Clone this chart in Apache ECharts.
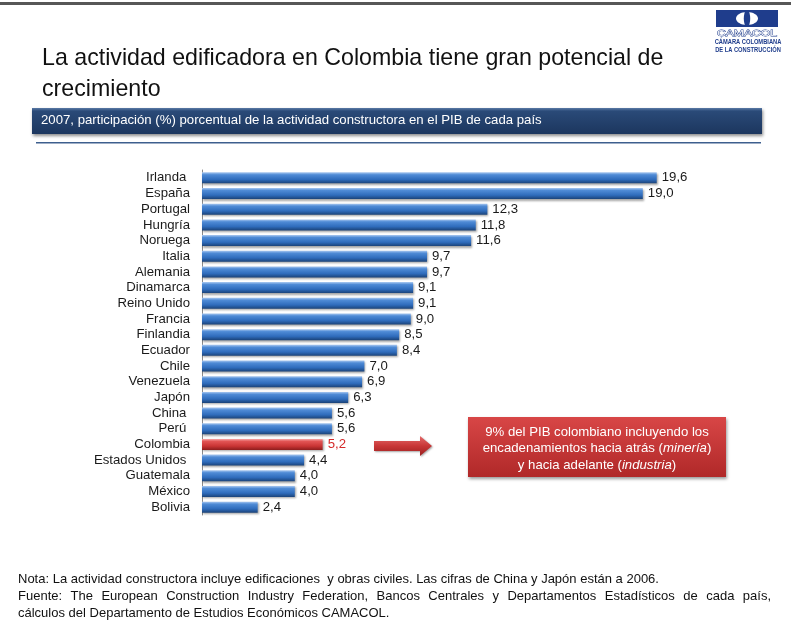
<!DOCTYPE html>
<html>
<head>
<meta charset="utf-8">
<script src="https://cdn.jsdelivr.net/npm/echarts@6/dist/echarts.min.js"></script>
<style>
  html, body { margin: 0; padding: 0; background: #ffffff; }
  #chart { width: 791px; height: 623px; }
</style>
</head>
<body>
<div id="chart"></div>
<script>
// Construction share of GDP, 2007 (%)
const countries = [
  'Irlanda ', 'España', 'Portugal', 'Hungría', 'Noruega', 'Italia', 'Alemania',
  'Dinamarca', 'Reino Unido', 'Francia', 'Finlandia', 'Ecuador', 'Chile',
  'Venezuela', 'Japón', 'China ', 'Perú ', 'Colombia', 'Estados Unidos ',
  'Guatemala', 'México', 'Bolivia'
];
const shares = [
  19.6, 19.0, 12.3, 11.8, 11.6, 9.7, 9.7,
  9.1, 9.1, 9.0, 8.5, 8.4, 7.0,
  6.9, 6.3, 5.6, 5.6, 5.2, 4.4,
  4.0, 4.0, 2.4
];
const highlight = 'Colombia';

const titleLines = [
  'La actividad edificadora en Colombia tiene gran potencial de',
  'crecimiento'
];
const subtitle = '2007, participación (%) porcentual de la actividad constructora en el PIB de cada país';
const calloutText = '9% del PIB colombiano incluyendo los\nencadenamientos hacia atrás ({i|minería})\ny hacia adelante ({i|industria})';
const noteLine = 'Nota: La actividad constructora incluye edificaciones  y obras civiles. Las cifras de China y Japón están a 2006.';
const sourceLine = 'Fuente: The European Construction Industry Federation, Bancos Centrales y Departamentos Estadísticos de cada país,';
const sourceLine2 = 'cálculos del Departamento de Estudios Económicos CAMACOL.';

const FONT = '"Liberation Sans", Arial, sans-serif';
const SMALL = 13.2;

const blueFill = new echarts.graphic.LinearGradient(0, 0, 0, 1, [
  { offset: 0, color: '#a9c8f0' },
  { offset: 0.22, color: '#4f8bd6' },
  { offset: 0.65, color: '#2f6cbc' },
  { offset: 1, color: '#1b4379' }
]);
const redFill = new echarts.graphic.LinearGradient(0, 0, 0, 1, [
  { offset: 0, color: '#f6a8a8' },
  { offset: 0.22, color: '#e25454' },
  { offset: 0.65, color: '#c93434' },
  { offset: 1, color: '#8e1d1d' }
]);

const barData = shares.map((v, i) => {
  const isHi = countries[i].trim() === highlight;
  return {
    value: v,
    itemStyle: { color: isHi ? redFill : blueFill },
    label: { color: isHi ? '#d42a2a' : '#1a1a1a' }
  };
});

// Justify a line of words across a given width
function justifiedWords(text, x0, x1, y, font) {
  const ctx = document.createElement('canvas').getContext('2d');
  ctx.font = font;
  const words = text.split(' ');
  const widths = words.map(w => ctx.measureText(w).width);
  const total = widths.reduce((a, b) => a + b, 0);
  const gap = (x1 - x0 - total) / (words.length - 1);
  const out = [];
  let x = x0;
  words.forEach((w, i) => {
    out.push({
      type: 'text', x: x, y: y,
      style: { text: w, font: font, fill: '#111', verticalAlign: 'top' }
    });
    x += widths[i] + gap;
  });
  return out;
}

const noteFont = '13px ' + FONT;
const logoBlue = '#1f3d8c';

const graphics = [
  // top rule
  { type: 'rect', shape: { x: 0, y: 2, width: 791, height: 3 }, style: { fill: '#575757' } },
  // logo
  { type: 'rect', shape: { x: 716, y: 10, width: 62, height: 17 }, style: { fill: logoBlue } },
  { type: 'ellipse', shape: { cx: 747, cy: 18.5, rx: 11, ry: 6.5 }, style: { fill: '#ffffff' } },
  { type: 'ellipse', shape: { cx: 747, cy: 18.5, rx: 3.2, ry: 8.5 }, style: { fill: logoBlue } },
  { type: 'text', x: 747, y: 29, scaleX: 1.35, style: { text: 'CAMACOL', font: '9px ' + FONT, fill: '#ffffff', stroke: logoBlue, lineWidth: 0.8, align: 'center', verticalAlign: 'top' } },
  { type: 'text', x: 748, y: 39, scaleX: 0.82, style: { text: 'CÁMARA COLOMBIANA', font: 'bold 7px ' + FONT, fill: logoBlue, align: 'center', verticalAlign: 'top' } },
  { type: 'text', x: 748, y: 47, scaleX: 0.82, style: { text: 'DE LA CONSTRUCCIÓN', font: 'bold 7px ' + FONT, fill: logoBlue, align: 'center', verticalAlign: 'top' } },
  // title
  { type: 'text', x: 42, y: 47, style: { text: titleLines[0], font: '23.2px ' + FONT, fill: '#111', verticalAlign: 'top' } },
  { type: 'text', x: 42, y: 78, style: { text: titleLines[1], font: '23.2px ' + FONT, fill: '#111', verticalAlign: 'top' } },
  // subtitle band
  {
    type: 'rect', shape: { x: 32, y: 108, width: 730, height: 26 },
    style: {
      fill: new echarts.graphic.LinearGradient(0, 0, 0, 1, [
        { offset: 0, color: '#5a7aa6' },
        { offset: 0.12, color: '#2a4a78' },
        { offset: 1, color: '#1c365e' }
      ]),
      shadowColor: 'rgba(0,0,0,0.45)', shadowBlur: 3, shadowOffsetX: 1, shadowOffsetY: 2
    }
  },
  { type: 'text', x: 41, y: 114, style: { text: subtitle, font: SMALL + 'px ' + FONT, fill: '#ffffff', verticalAlign: 'top' } },
  { type: 'rect', shape: { x: 36, y: 142, width: 725, height: 1.5 }, style: { fill: '#3e5f8e' } },
  // arrow
  {
    type: 'polygon',
    shape: { points: [[374, 441], [420, 441], [420, 436], [432, 446], [420, 456], [420, 451], [374, 451]] },
    style: {
      fill: new echarts.graphic.LinearGradient(0, 0, 0, 1, [
        { offset: 0, color: '#e46a6a' },
        { offset: 0.5, color: '#c83636' },
        { offset: 1, color: '#9a2020' }
      ]),
      shadowColor: 'rgba(0,0,0,0.35)', shadowBlur: 2, shadowOffsetX: 1, shadowOffsetY: 1
    }
  },
  // callout box
  {
    type: 'rect', shape: { x: 468, y: 417, width: 258, height: 60 },
    style: {
      fill: new echarts.graphic.LinearGradient(0, 0, 0, 1, [
        { offset: 0, color: '#d84646' },
        { offset: 1, color: '#b02828' }
      ]),
      shadowColor: 'rgba(0,0,0,0.4)', shadowBlur: 3, shadowOffsetX: 1, shadowOffsetY: 2
    }
  },
  {
    type: 'text', x: 597, y: 424,
    style: {
      text: calloutText, align: 'center', verticalAlign: 'top',
      font: SMALL + 'px ' + FONT, fill: '#ffffff', lineHeight: 16.5,
      rich: { i: { fontStyle: 'italic', fontSize: SMALL, fontFamily: FONT, fill: '#ffffff', lineHeight: 16.5 } }
    }
  },
  // footnotes
  { type: 'text', x: 18, y: 573, style: { text: noteLine, font: noteFont, fill: '#111', verticalAlign: 'top' } },
  { type: 'text', x: 18, y: 607, style: { text: sourceLine2, font: noteFont, fill: '#111', verticalAlign: 'top' } }
].concat(justifiedWords(sourceLine, 18, 771, 590, noteFont));

const chart = echarts.init(document.getElementById('chart'), null, { renderer: 'canvas' });
chart.setOption({
  backgroundColor: '#ffffff',
  animation: false,
  grid: { left: 202, top: 170, width: 464, height: 345, containLabel: false },
  xAxis: {
    type: 'value', min: 0, max: 20, show: false
  },
  yAxis: {
    type: 'category', data: countries, inverse: true,
    axisLine: { show: true, lineStyle: { color: '#8a8a8a', width: 1 } },
    axisTick: { show: false },
    axisLabel: { interval: 0, margin: 12, fontFamily: FONT, fontSize: SMALL, color: '#1a1a1a' }
  },
  series: [{
    type: 'bar',
    data: barData,
    barWidth: 11,
    itemStyle: {
      shadowColor: 'rgba(0,0,0,0.35)', shadowBlur: 2, shadowOffsetX: 1, shadowOffsetY: 1.5
    },
    label: {
      show: true, position: 'right', distance: 5,
      fontFamily: FONT, fontSize: SMALL,
      formatter: p => p.value.toFixed(1).replace('.', ',')
    }
  }],
  graphic: graphics
});
</script>
</body>
</html>
